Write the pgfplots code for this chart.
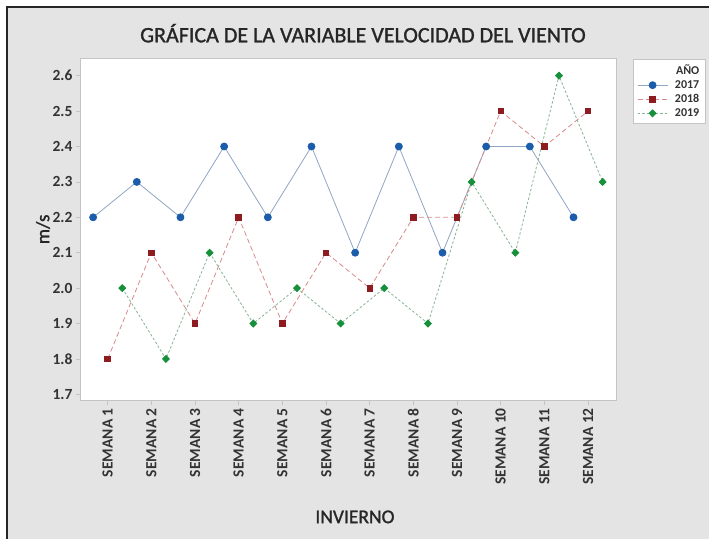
\documentclass[border=0pt]{standalone}
\usepackage{fontspec}
\setmainfont{Carlito}
\newfontfamily\titlefont[FakeBold=1.2]{Carlito}
\usepackage{pgfplots}
\pgfplotsset{compat=1.18}
\usepackage{pgfplotstable}

\definecolor{fondo}{HTML}{E4E4E4}
\definecolor{marco}{HTML}{C4C4C4}
\definecolor{c17}{HTML}{1B5DAA}
\definecolor{c18}{HTML}{8E1B1F}
\definecolor{c19}{HTML}{16903A}
\definecolor{l17}{HTML}{8FA6C4}
\definecolor{l18}{HTML}{D98A8C}
\definecolor{l19}{HTML}{86B592}

% velocidad del viento (m/s) por semana de invierno
\pgfplotstableread{
semana v2017 v2018 v2019
1  2.2 1.8 2.0
2  2.3 2.1 1.8
3  2.2 1.9 2.1
4  2.4 2.2 1.9
5  2.2 1.9 2.0
6  2.4 2.1 1.9
7  2.1 2.0 2.0
8  2.4 2.2 1.9
9  2.1 2.2 2.3
10 2.4 2.5 2.1
11 2.4 2.4 2.6
12 2.2 2.5 2.3
}\viento

\begin{document}
\begin{tikzpicture}
\useasboundingbox (0pt,0pt) rectangle (709pt,539pt);
\fill[white] (0pt,0pt) rectangle (709pt,539pt);
\fill[fondo] (7pt,0pt) rectangle (709pt,532pt);
\draw[black!85, line width=1.2pt] (7pt,0pt) -- (7pt,532pt) -- (709pt,532pt);
\node[anchor=base, text=black!85, font=\titlefont\fontsize{22}{26}\selectfont] at (363pt,496.7pt)
  {GRÁFICA DE LA VARIABLE VELOCIDAD DEL VIENTO};

\begin{axis}[
    at={(80pt,138.3pt)}, anchor=south west,
    scale only axis, width=536pt, height=342.7pt,
    xmin=0.366, xmax=12.64, ymin=1.682, ymax=2.65,
    axis background/.style={fill=white},
    axis line style={marco, line width=0.6pt},
    xtick={1,2,3,4,5,6,7,8,9,10,11,12},
    xticklabels={SEMANA 1,SEMANA 2,SEMANA 3,SEMANA 4,SEMANA 5,SEMANA 6,
                 SEMANA 7,SEMANA 8,SEMANA 9,SEMANA 10,SEMANA 11,SEMANA 12},
    ytick={1.7,1.8,1.9,2.0,2.1,2.2,2.3,2.4,2.5,2.6},
    yticklabel style={/pgf/number format/.cd, fixed, fixed zerofill, precision=1, assume math mode=true},
    xtick pos=bottom, ytick pos=left,
    tick align=outside, major tick length=4pt,
    tick style={marco, line width=0.6pt},
    ticklabel style={text=black!80, font=\bfseries\fontsize{15.5}{17}\selectfont},
    xticklabel style={rotate=90, anchor=east},
    ylabel={m/s},
    ylabel style={at={(axis description cs:-0.069,0.5)}, anchor=center,
                  text=black!85, font=\titlefont\fontsize{19}{21}\selectfont},
    xlabel={INVIERNO},
    xlabel style={at={(axis description cs:0.513,-0.339)}, anchor=center,
                  text=black!85, font=\titlefont\fontsize{19.5}{22}\selectfont},
    legend style={at={(1.0317,0.997)}, anchor=north west, fill=white, draw=marco,
                  font=\bfseries\fontsize{12}{13}\selectfont, text=black!80,
                  row sep=0.5pt, inner xsep=4pt, inner ysep=3.5pt,
                  /tikz/every odd column/.append style={column sep=5pt}},
    legend cell align=right,
    legend image code/.code={\draw[mark repeat=2, mark phase=2]
        plot coordinates {(0pt,0pt) (15pt,0pt) (30pt,0pt)};},
]
\addlegendimage{empty legend}
\addlegendentry{AÑO}

\addplot [l17, line width=0.8pt, mark=*, mark size=3.5pt,
          mark options={solid, fill=c17, draw=c17}]
    table [x expr=\thisrow{semana}-0.333, y=v2017] {\viento};
\addlegendentry{2017}

\addplot [l18, line width=0.8pt, dash pattern=on 5pt off 3pt, mark=square*, mark size=2.8pt,
          mark options={solid, fill=c18, draw=c18}]
    table [x=semana, y=v2018] {\viento};
\addlegendentry{2018}

\addplot [l19, line width=0.8pt, dash pattern=on 2.5pt off 2pt, mark=diamond*, mark size=3.5pt,
          mark options={solid, fill=c19, draw=c19, xscale=1.3}]
    table [x expr=\thisrow{semana}+0.334, y=v2019] {\viento};
\addlegendentry{2019}
\end{axis}
\end{tikzpicture}
\end{document}
